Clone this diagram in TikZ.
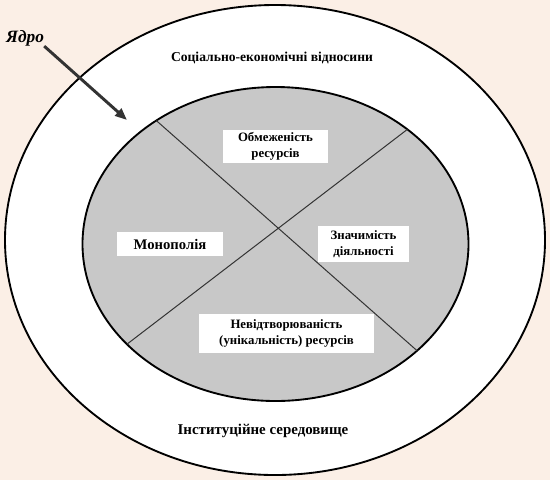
\documentclass[tikz,border=0pt]{standalone}
\usepackage{fontspec}
\setmainfont{Liberation Serif}
\usetikzlibrary{arrows.meta, shapes.geometric}
\definecolor{bgpeach}{HTML}{FBEFE6}
\definecolor{coregray}{HTML}{C8C8C8}
\definecolor{darkline}{HTML}{333333}

\begin{document}
\begin{tikzpicture}[
  x=0.75pt, y=-0.75pt,
  ring/.style={ellipse, draw, line width=1.4pt, inner sep=0pt, outer sep=0pt},
  factor/.style={rectangle, fill=white, align=center, inner sep=0pt, font=\bfseries\fontsize{9.6}{12}\selectfont},
  caption/.style={font=\bfseries\fontsize{10.2}{12}\selectfont},
  cross/.style={line width=0.75pt, draw=darkline},
  pointer/.style={-{Triangle[length=9pt, width=7pt]}, line width=2.2pt, draw=darkline, color=darkline}
]
\fill[bgpeach] (0,0) rectangle (550,480);
\useasboundingbox (0,0) rectangle (550,480);
\node[ring, fill=white, minimum width=405pt, minimum height=352.5pt] (env) at (275,240) {};
\node[ring, fill=coregray, minimum width=289.5pt, minimum height=235.5pt] (core) at (275.5,244) {};
\draw[cross] (core.134.6) -- (core.-37.1);
\draw[cross] (core.41.9) -- (core.214.9);
\node[caption] (relations) at (272,58) {Соціально-економічні відносини};
\node[caption, font=\bfseries\fontsize{11.2}{13}\selectfont] (institutions) at (263,431) {Інституційне середовище};
\node[factor, minimum width=78.75pt, minimum height=24.75pt] (limited) at (275.5,146.5) {Обмеженість\\ресурсів};
\node[factor, minimum width=79.5pt, minimum height=18pt, font=\bfseries\fontsize{11}{13}\selectfont] (monopoly) at (170,244) {Монополія};
\node[factor, minimum width=68.25pt, minimum height=27pt] (importance) at (363.5,244) {Значимість\\діяльності};
\node[factor, minimum width=131.25pt, minimum height=29.25pt] (unique) at (286.5,333.5) {Невідтворюваність\\(унікальність) ресурсів};
\node[font=\bfseries\itshape\fontsize{13}{15}\selectfont, inner sep=0pt] (core label) at (25,38) {Ядро};
\coordinate (core tip) at (127,120);
\draw[pointer] (core label.south east) -- (core tip);
\end{tikzpicture}
\end{document}
